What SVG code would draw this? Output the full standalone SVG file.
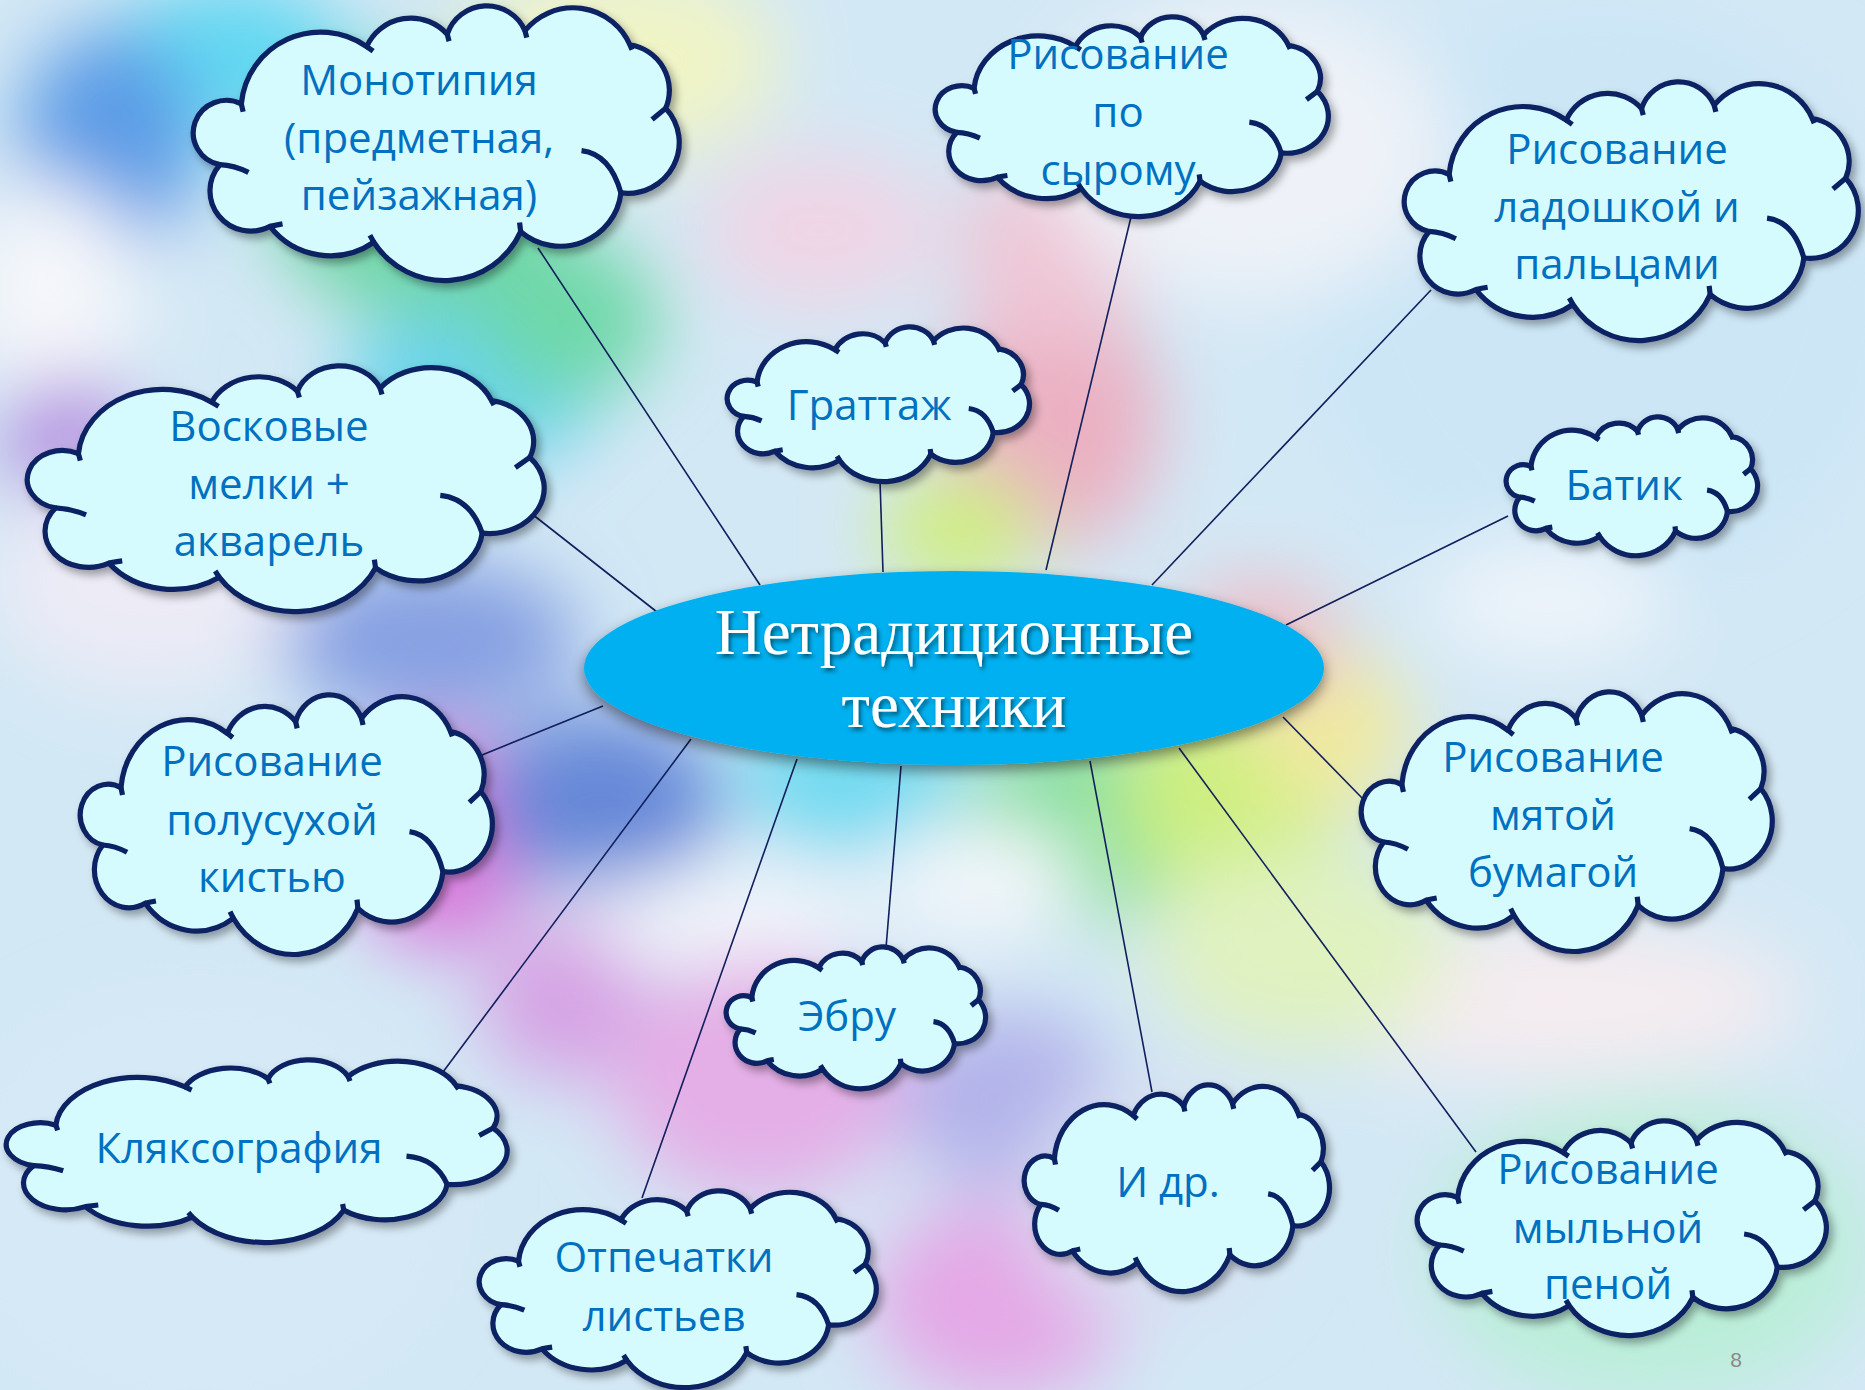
<svg xmlns="http://www.w3.org/2000/svg" xmlns:xlink="http://www.w3.org/1999/xlink" width="1865" height="1390" viewBox="0 0 1865 1390">
<defs>
<style>
.cl{fill:#D6FBFF;stroke:#0A2163;stroke-width:5.2;vector-effect:non-scaling-stroke;stroke-linejoin:round}
.tk{fill:none;stroke:#0A2163;stroke-width:5.2;vector-effect:non-scaling-stroke}
.t{font-family:"Open Sans","Noto Sans","DejaVu Sans",sans-serif;font-size:42px;fill:#0070C0;text-anchor:middle}
.ct{font-family:"Liberation Serif","Times New Roman",serif;font-size:65px;fill:#ffffff;text-anchor:middle}
.ln{stroke:#111F5C;stroke-width:1.6;fill:none}
</style>
<filter id="blur" x="-200" y="-200" width="2265" height="1790" filterUnits="userSpaceOnUse"><feGaussianBlur stdDeviation="38"/></filter>
<filter id="csh" x="-10%" y="-10%" width="125%" height="130%"><feDropShadow dx="4" dy="5" stdDeviation="4" flood-color="#000000" flood-opacity="0.35"/></filter>
<filter id="esh" x="-10%" y="-20%" width="120%" height="150%"><feDropShadow dx="0" dy="6" stdDeviation="7" flood-color="#000000" flood-opacity="0.45"/></filter>
<filter id="tsh" x="-10%" y="-20%" width="120%" height="150%"><feDropShadow dx="2" dy="3" stdDeviation="2" flood-color="#000000" flood-opacity="0.55"/></filter>
<path id="cloud" class="cl" d="M135,278 A222,222 0 0 1 485,115 A135,135 0 0 1 710,80 A116,116 0 0 1 927,70 A172,172 0 0 1 1220,110 A131,131 0 0 1 1320,290 A144,144 0 0 1 1195,530 A170,170 0 0 1 915,640 A233,233 0 0 1 505,670 A212,212 0 0 1 215,625 A114,114 0 0 1 75,450 A92,92 0 1 1 135,278 Z"/>
<path id="ticks" class="tk" d="M135,278 L140,300 M75,450 Q115,452 155,472 M215,625 Q232,621 250,618 M505,670 L494,650 M915,640 L912,614 M1085,410 Q1165,420 1195,530 M1320,290 L1282,322 M1220,110 L1226,124 M927,70 L932,90 M710,80 L715,100 M485,115 L503,128"/>
</defs>

<g id="background">
<rect x="0" y="0" width="1865" height="1390" fill="#D3E8F5"/>
<g filter="url(#blur)">
<ellipse cx="230" cy="60" rx="120" ry="80" fill="#62D8F2"/>
<ellipse cx="110" cy="140" rx="90" ry="110" fill="#5C9BE6"/>
<ellipse cx="420" cy="190" rx="150" ry="130" fill="#6FD6A6"/>
<ellipse cx="50" cy="290" rx="90" ry="110" fill="#F4F6FA"/>
<ellipse cx="70" cy="440" rx="70" ry="60" fill="#B08CE0"/>
<ellipse cx="620" cy="60" rx="160" ry="100" fill="#F0F4C6"/>
<ellipse cx="470" cy="390" rx="130" ry="80" fill="#6AD4EC"/>
<ellipse cx="570" cy="320" rx="90" ry="80" fill="#6ED8A8"/>
<ellipse cx="820" cy="230" rx="120" ry="80" fill="#EFD6E6"/>
<ellipse cx="1050" cy="420" rx="110" ry="130" fill="#EBB0C2"/>
<ellipse cx="1050" cy="250" rx="90" ry="100" fill="#EFC6D6"/>
<ellipse cx="960" cy="530" rx="80" ry="60" fill="#D0EE80"/>
<ellipse cx="150" cy="580" rx="160" ry="110" fill="#ECEBF6"/>
<ellipse cx="430" cy="640" rx="150" ry="80" fill="#86A0E2"/>
<ellipse cx="440" cy="840" rx="90" ry="110" fill="#D878DA"/>
<ellipse cx="600" cy="800" rx="120" ry="90" fill="#6688D8"/>
<ellipse cx="850" cy="770" rx="110" ry="80" fill="#72DAF0"/>
<ellipse cx="1080" cy="820" rx="120" ry="100" fill="#86DFA0"/>
<ellipse cx="1230" cy="790" rx="110" ry="110" fill="#CDEF80"/>
<ellipse cx="1330" cy="730" rx="80" ry="80" fill="#F0EA9E"/>
<ellipse cx="1260" cy="640" rx="80" ry="60" fill="#EEBCC6"/>
<ellipse cx="720" cy="915" rx="160" ry="40" fill="#F6F8FC"/>
<ellipse cx="980" cy="880" rx="100" ry="60" fill="#F2F6FA"/>
<ellipse cx="760" cy="1080" rx="150" ry="120" fill="#E4AEE6"/>
<ellipse cx="560" cy="1000" rx="80" ry="80" fill="#D6A2E4"/>
<ellipse cx="1000" cy="1300" rx="130" ry="100" fill="#E4A8E6"/>
<ellipse cx="1010" cy="1100" rx="110" ry="90" fill="#B2B2EA"/>
<ellipse cx="1650" cy="1250" rx="220" ry="150" fill="#BAEED8"/>
<ellipse cx="1550" cy="1000" rx="250" ry="80" fill="#F4ECF0"/>
<ellipse cx="1300" cy="950" rx="150" ry="100" fill="#E0F2C0"/>
<ellipse cx="1600" cy="300" rx="300" ry="300" fill="#CCE6F6"/>
<ellipse cx="1250" cy="150" rx="200" ry="150" fill="#EEF2F8"/>
<ellipse cx="1550" cy="600" rx="120" ry="60" fill="#EEF4FA"/>
<ellipse cx="200" cy="1200" rx="250" ry="200" fill="#D6E9F6"/>
<ellipse cx="1150" cy="1200" rx="120" ry="120" fill="#D8E0F2"/>
</g>
</g>

<g id="connectors">
<line class="ln" x1="760" y1="585" x2="538" y2="248"/>
<line class="ln" x1="1046" y1="570" x2="1131" y2="217"/>
<line class="ln" x1="1152" y1="585" x2="1431" y2="290"/>
<line class="ln" x1="883" y1="572" x2="880" y2="481"/>
<line class="ln" x1="657" y1="612" x2="532" y2="514"/>
<line class="ln" x1="1286" y1="625" x2="1508" y2="516"/>
<line class="ln" x1="603" y1="706" x2="482" y2="755"/>
<line class="ln" x1="1283" y1="717" x2="1363" y2="799"/>
<line class="ln" x1="901" y1="766" x2="886" y2="948"/>
<line class="ln" x1="691" y1="739" x2="443" y2="1072"/>
<line class="ln" x1="797" y1="759" x2="642" y2="1198"/>
<line class="ln" x1="1090" y1="761" x2="1152" y2="1092"/>
<line class="ln" x1="1179" y1="748" x2="1476" y2="1152"/>
</g>

<g id="center">
<ellipse cx="954" cy="668" rx="370" ry="97" fill="#00B0F0" filter="url(#esh)"/>
<g filter="url(#tsh)">
<text class="ct" x="954" y="654">Нетрадиционные</text>
<text class="ct" x="954" y="727">техники</text>
</g>
</g>

<g id="n-monotipia">
<g filter="url(#csh)"><use href="#cloud" transform="translate(193,6) scale(0.3581,0.3526)"/></g>
<use href="#ticks" transform="translate(193,6) scale(0.3581,0.3526)"/>
<text class="t" x="419" y="95">Монотипия</text>
<text class="t" x="419" y="153">(предметная,</text>
<text class="t" x="419" y="210">пейзажная)</text>
</g>

<g id="n-syromu">
<g filter="url(#csh)"><use href="#cloud" transform="translate(935,17) scale(0.2897,0.2564)"/></g>
<use href="#ticks" transform="translate(935,17) scale(0.2897,0.2564)"/>
<text class="t" x="1118" y="69">Рисование</text>
<text class="t" x="1118" y="127">по</text>
<text class="t" x="1118" y="185">сырому</text>
</g>

<g id="n-ladoshkoy">
<g filter="url(#csh)"><use href="#cloud" transform="translate(1404,82) scale(0.3346,0.3321)"/></g>
<use href="#ticks" transform="translate(1404,82) scale(0.3346,0.3321)"/>
<text class="t" x="1617" y="164">Рисование</text>
<text class="t" x="1617" y="222">ладошкой и</text>
<text class="t" x="1617" y="279">пальцами</text>
</g>

<g id="n-voskovye">
<g filter="url(#csh)"><use href="#cloud" transform="translate(27,366) scale(0.3809,0.3154)"/></g>
<use href="#ticks" transform="translate(27,366) scale(0.3809,0.3154)"/>
<text class="t" x="269" y="441">Восковые</text>
<text class="t" x="269" y="499">мелки +</text>
<text class="t" x="269" y="556">акварель</text>
</g>

<g id="n-grattazh">
<g filter="url(#csh)"><use href="#cloud" transform="translate(727,327) scale(0.2228,0.1987)"/></g>
<use href="#ticks" transform="translate(727,327) scale(0.2228,0.1987)"/>
<text class="t" x="869" y="420">Граттаж</text>
</g>

<g id="n-batik">
<g filter="url(#csh)"><use href="#cloud" transform="translate(1506,417) scale(0.1853,0.1782)"/></g>
<use href="#ticks" transform="translate(1506,417) scale(0.1853,0.1782)"/>
<text class="t" x="1624" y="500">Батик</text>
</g>

<g id="n-polusukhoy">
<g filter="url(#csh)"><use href="#cloud" transform="translate(80,695) scale(0.3037,0.3333)"/></g>
<use href="#ticks" transform="translate(80,695) scale(0.3037,0.3333)"/>
<text class="t" x="272" y="776">Рисование</text>
<text class="t" x="272" y="835">полусухой</text>
<text class="t" x="272" y="892">кистью</text>
</g>

<g id="n-myatoy">
<g filter="url(#csh)"><use href="#cloud" transform="translate(1361,692) scale(0.3029,0.3333)"/></g>
<use href="#ticks" transform="translate(1361,692) scale(0.3029,0.3333)"/>
<text class="t" x="1553" y="772">Рисование</text>
<text class="t" x="1553" y="830">мятой</text>
<text class="t" x="1553" y="887">бумагой</text>
</g>

<g id="n-ebru">
<g filter="url(#csh)"><use href="#cloud" transform="translate(726,947) scale(0.1912,0.1821)"/></g>
<use href="#ticks" transform="translate(726,947) scale(0.1912,0.1821)"/>
<text class="t" x="847" y="1031">Эбру</text>
</g>

<g id="n-klyaksografiya">
<g filter="url(#csh)"><use href="#cloud" transform="translate(6,1060) scale(0.3691,0.2346)"/></g>
<use href="#ticks" transform="translate(6,1060) scale(0.3691,0.2346)"/>
<text class="t" x="239" y="1163">Кляксография</text>
</g>

<g id="n-otpechatki">
<g filter="url(#csh)"><use href="#cloud" transform="translate(479,1191) scale(0.2926,0.2526)"/></g>
<use href="#ticks" transform="translate(479,1191) scale(0.2926,0.2526)"/>
<text class="t" x="664" y="1272">Отпечатки</text>
<text class="t" x="664" y="1331">листьев</text>
</g>

<g id="n-idr">
<g filter="url(#csh)"><use href="#cloud" transform="translate(1024,1085) scale(0.225,0.2654)"/></g>
<use href="#ticks" transform="translate(1024,1085) scale(0.225,0.2654)"/>
<text class="t" x="1168" y="1197">И др.</text>
</g>

<g id="n-mylnoy">
<g filter="url(#csh)"><use href="#cloud" transform="translate(1417,1121) scale(0.3015,0.2756)"/></g>
<use href="#ticks" transform="translate(1417,1121) scale(0.3015,0.2756)"/>
<text class="t" x="1608" y="1184">Рисование</text>
<text class="t" x="1608" y="1243">мыльной</text>
<text class="t" x="1608" y="1299">пеной</text>
</g>

<text id="page-number" x="1736" y="1367" font-family="Liberation Sans, sans-serif" font-size="21" fill="#8A8A8A" text-anchor="middle">8</text>
</svg>
